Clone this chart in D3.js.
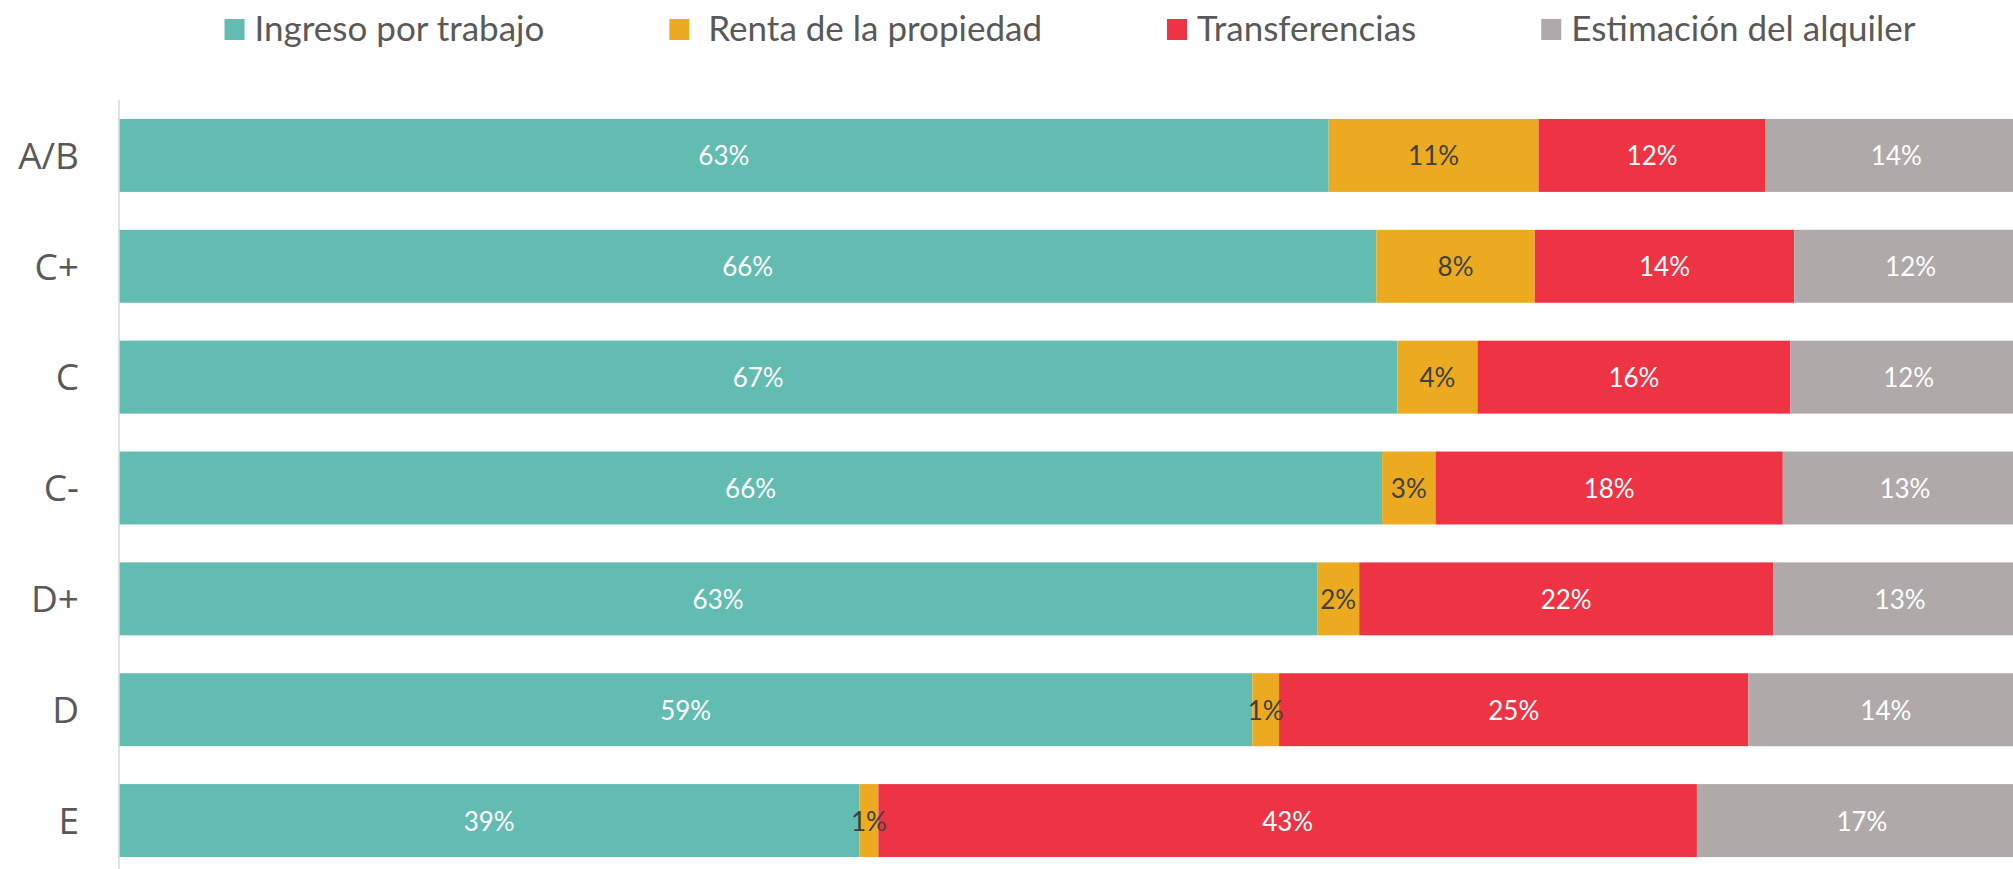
<!DOCTYPE html>
<html lang="es">
<head>
<meta charset="utf-8">
<script src="https://cdn.jsdelivr.net/npm/d3@7"></script>
<style>
  html, body { margin: 0; padding: 0; background: #fff; }
  svg { display: block; }
</style>
</head>
<body>
<svg id="chart"></svg>
<script>
// [A] Datos -------------------------------------------------------------------
const categories = ["A/B", "C+", "C", "C-", "D+", "D", "E"];
const seriesNames = ["Ingreso por trabajo", " Renta de la propiedad", "Transferencias", "Estimación del alquiler"];
const ingresoTrabajo = [63.4, 65.9, 67.0, 66.2, 62.8, 59.4, 38.8];
const rentaPropiedad = [11.0, 8.3, 4.2, 2.8, 2.2, 1.4, 1.0];
const transferencias = [11.9, 13.6, 16.4, 18.2, 21.7, 24.6, 42.9];
const estimacionAlquiler = [13.7, 12.2, 12.4, 12.8, 13.3, 14.4, 17.3];

const colors = ["#62bcb2", "#ebaa20", "#ee3344", "#afaaa9"];
const labelColors = ["#ffffff", "#404040", "#ffffff", "#ffffff"];

// [A.1] Configuracion
const width = 2013;
const height = 869;
const plotLeft = 119;
const plotRight = 2027; // el 100% queda fuera del recorte, como en la imagen

const svg = d3.select("#chart")
    .attr("width", width)
    .attr("height", height);

// [B] Tabla apilada -----------------------------------------------------------
const seriesValues = [ingresoTrabajo, rentaPropiedad, transferencias, estimacionAlquiler];
const table = categories.map((cat, i) => {
    const row = { cat };
    seriesNames.forEach((name, s) => { row[name] = seriesValues[s][i]; });
    return row;
});
const stacked = d3.stack().keys(seriesNames)(table);

// [C] Escalas -----------------------------------------------------------------
const x = d3.scaleLinear().domain([0, 100]).range([plotLeft, plotRight]);
const y = d3.scaleBand()
    .domain(categories)
    .range([100, 876])
    .paddingInner(0.342)
    .paddingOuter(0.171);

// [D] Barras ------------------------------------------------------------------
const layers = svg.append("g")
    .selectAll("g")
    .data(stacked)
    .join("g")
    .attr("fill", (d, i) => colors[i]);

layers.selectAll("rect")
    .data(d => d)
    .join("rect")
    .attr("x", d => x(d[0]))
    .attr("y", d => y(d.data.cat))
    .attr("width", d => x(d[1]) - x(d[0]))
    .attr("height", y.bandwidth());

// [D.1] Etiquetas de datos
svg.append("g")
    .selectAll("g")
    .data(stacked)
    .join("g")
    .attr("fill", (d, i) => labelColors[i])
    .selectAll("text")
    .data(d => d)
    .join("text")
    .attr("x", d => (x(d[0]) + x(d[1])) / 2)
    .attr("y", d => y(d.data.cat) + y.bandwidth() / 2)
    .attr("text-anchor", "middle")
    .attr("dominant-baseline", "central")
    .style("font-family", "Lato, 'Open Sans', sans-serif")
    .style("font-size", "26px")
    .text(d => Math.round(d[1] - d[0]) + "%");

// [E] Eje vertical ------------------------------------------------------------
svg.append("line")
    .attr("x1", plotLeft).attr("x2", plotLeft)
    .attr("y1", 100).attr("y2", height)
    .attr("stroke", "#d9d9d9")
    .attr("stroke-width", 1.5);

const yAxis = svg.append("g")
    .attr("transform", `translate(${plotLeft - 40},0)`)
    .call(d3.axisLeft(y).tickSize(0).tickPadding(0));
yAxis.select(".domain").remove();
yAxis.selectAll("text")
    .attr("fill", "#595959")
    .attr("dy", "0.36em")
    .style("font-family", "'Open Sans', sans-serif")
    .style("font-size", "37px");

// [F] Leyenda -----------------------------------------------------------------
const legend = svg.append("g");
const items = legend.selectAll("g")
    .data(seriesNames)
    .join("g");

items.append("rect")
    .attr("width", 20)
    .attr("height", 21)
    .attr("y", 19)
    .attr("fill", (d, i) => colors[i]);

items.append("text")
    .attr("x", 30)
    .attr("y", 41)
    .attr("fill", "#595959")
    .style("font-family", "Lato, 'Open Sans', sans-serif")
    .style("font-size", "35px")
    .style("white-space", "pre")
    .text(d => d);

// [F.1] Reparte los elementos de la leyenda y los centra
let offset = 0;
const gap = 125;
items.each(function () {
    const g = d3.select(this);
    g.attr("transform", `translate(${offset},0)`);
    offset += 30 + g.select("text").node().getComputedTextLength() + gap;
});
const legendWidth = offset - gap;
legend.attr("transform", `translate(${1070 - legendWidth / 2},0)`);
</script>
</body>
</html>
